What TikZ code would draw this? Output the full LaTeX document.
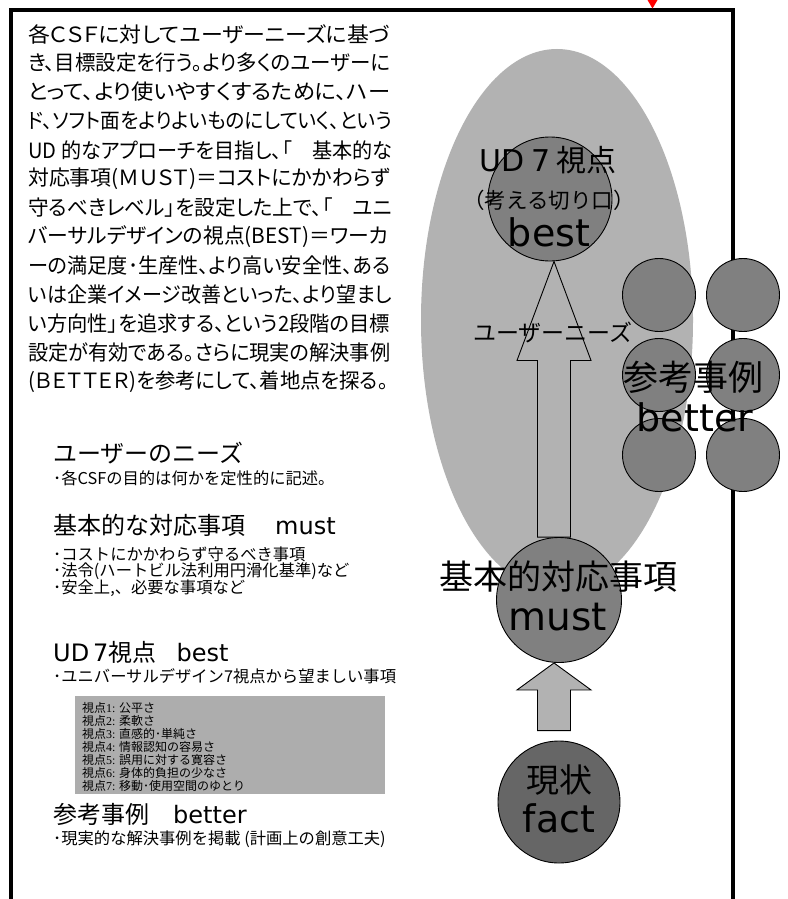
\documentclass[tikz,border=0pt]{standalone}
\usepackage{fontspec}
\usepackage{graphicx}
\usetikzlibrary{calc}
\newfontfamily\jp[RawFeature=+palt]{Noto Sans CJK JP}
\newfontfamily\jpw{Noto Sans CJK JP}
\newfontfamily\lat{DejaVu Sans}
\newfontfamily\ser{Liberation Serif}
\definecolor{lg}{HTML}{B2B2B2}
\definecolor{mg}{HTML}{808080}
\definecolor{dg}{HTML}{666666}
\definecolor{bx}{HTML}{ADADAD}
\begin{document}
\begin{tikzpicture}[x=1pt,y=-1pt,
  circ/.style={circle,draw=black,line width=0.9pt,inner sep=0pt},
  arr/.style={draw=black,line width=0.9pt,fill=lg,line join=miter},
  lbl/.style={inner sep=0pt},
  para/.style={inner sep=0pt,anchor=west,font={\jp\fontsize{21pt}{21pt}\selectfont}},
  head/.style={inner sep=0pt,anchor=west,font={\jpw\fontsize{24pt}{24pt}\selectfont}},
  bul/.style={inner sep=0pt,anchor=west,font={\jpw\fontsize{16.3pt}{16.3pt}\selectfont}},
  boxt/.style={inner sep=0pt,anchor=west,font={\jpw\fontsize{12pt}{12pt}\selectfont}},
]
\useasboundingbox (0,0) rectangle (787,899);
\fill[white] (0,0) rectangle (787,899);
% big light ellipse
\fill[lg] (557,320) ellipse [x radius=136pt, y radius=271pt];
% frame
\draw[line width=4pt,line join=miter] (10.5,905) -- (10.5,10) -- (733,10) -- (733,905);
\fill[red] (647.5,0) -- (657.5,0) -- (652.5,8.5) -- cycle;

% circles and arrows
\node[circ,fill=mg,minimum size=124pt] (best) at (550,199) {};
\coordinate (t1) at ($(best.south)+(4,0)$);
\node[circ,minimum size=125pt,draw=none] (mustpos) at (559,600) {};
\coordinate (sl) at ($(t1)+(-16.5,0)$);
\coordinate (sr) at ($(t1)+(16.5,0)$);
\draw[arr] (t1) -- ($(t1)+(37,99)$) -- ($(t1)+(16.5,99)$) -- (sr |- mustpos.north) -- (sl |- mustpos.north) -- ($(t1)+(-16.5,99)$) -- ($(t1)+(-37,99)$) -- cycle;
\node[circ,fill=mg,minimum size=125pt] (must) at (559,600) {};
\node[circ,fill=dg,minimum size=122pt] (fact) at (559,802) {};
\coordinate (t2) at (t1 |- must.south);
\coordinate (b2) at ($(t1 |- fact.north)+(0,-10)$);
\draw[arr] (t2) -- ($(t2)+(37,27)$) -- ($(t2)+(16.5,27)$) -- (sr |- b2) -- (sl |- b2) -- ($(t2)+(-16.5,27)$) -- ($(t2)+(-37,27)$) -- cycle;

% better circles
\node[circ,fill=mg,minimum size=73pt] (c11) at (659,295) {};
\node[circ,fill=mg,minimum size=73pt] (c12) at (743,295) {};
\node[circ,fill=mg,minimum size=73pt] (c21) at (659,375) {};
\node[circ,fill=mg,minimum size=73pt] (c22) at (743,375) {};
\node[circ,fill=mg,minimum size=73pt] (c31) at (659,455) {};
\node[circ,fill=mg,minimum size=73pt] (c32) at (743,455) {};

% labels on diagram
\node[lbl,font={\jpw\fontsize{30pt}{30pt}\selectfont}] (udl) at (548,160) {{\lat UD}\hspace{7pt}{\lat 7}\hspace{6pt}視点};
\node[lbl,font={\jpw\fontsize{21.5pt}{21.5pt}\selectfont}] (kiri) at (549,200) {（考える切り口）};
\node[lbl,font={\lat\fontsize{38pt}{38pt}\selectfont}] (bestl) at (549,232) {best};
\node[lbl,font={\jpw\fontsize{23pt}{23pt}\selectfont}] (needs) at (553,332) {ユーザーニーズ};
\node[lbl,font={\jpw\fontsize{34pt}{34pt}\selectfont}] (mustj) at (558,577) {基本的対応事項};
\node[lbl,font={\lat\fontsize{39pt}{39pt}\selectfont}] (mustl) at (558,617) {must};
\node[lbl,font={\jpw\fontsize{33pt}{33pt}\selectfont}] (factj) at (559,780) {現状};
\node[lbl,font={\lat\fontsize{38pt}{38pt}\selectfont}] (factl) at (559,818) {fact};
\node[lbl,font={\jpw\fontsize{35pt}{35pt}\selectfont}] (betj) at (693,377) {参考事例};
\node[lbl,font={\lat\fontsize{38pt}{38pt}\selectfont}] (betl) at (695,417) {better};

% paragraph
\node[para] (p1) at (28,34) {\resizebox{362pt}{\height}{各ＣＳＦに対してユーザーニーズに基づ}};
\node[para] (p2) at (28,63) {\resizebox{362pt}{\height}{き、目標設定を行う。より多くのユーザーに}};
\node[para] (p3) at (28,92) {\resizebox{362pt}{\height}{とって、より使いやすくするために、ハー}};
\node[para] (p4) at (28,121) {\resizebox{364pt}{\height}{ド、ソフト面をよりよいものにしていく、という}};
\node[para] (p5) at (28,150) {\resizebox{364pt}{\height}{UD 的なアプローチを目指し、「　基本的な}};
\node[para] (p6) at (28,179) {\resizebox{362pt}{\height}{対応事項(ＭＵＳＴ)＝コストにかかわらず}};
\node[para] (p7) at (28,208) {\resizebox{364pt}{\height}{守るべきレベル」を設定した上で、「　ユニ}};
\node[para] (p8) at (28,237) {\resizebox{360pt}{\height}{バーサルデザインの視点(BEST)＝ワーカ}};
\node[para] (p9) at (28,266) {\resizebox{362pt}{\height}{ーの満足度･生産性、より高い安全性、ある}};
\node[para] (p10) at (28,295) {\resizebox{364pt}{\height}{いは企業イメージ改善といった、より望まし}};
\node[para] (p11) at (28,324) {\resizebox{362pt}{\height}{い方向性」を追求する、という2段階の目標}};
\node[para] (p12) at (28,353) {\resizebox{362pt}{\height}{設定が有効である。さらに現実の解決事例}};
\node[para] (p13) at (28,382) {\resizebox{360pt}{\height}{(ＢＥＴＴＥＲ)を参考にして、着地点を探る。}};

% left column
\node[head] (h1) at (53,453) {ユーザーのニーズ};
\node[bul] (h1a) at (53,478) {･各CSFの目的は何かを定性的に記述。};
\node[head] (h2) at (53,525) {基本的な対応事項\hspace{30pt}{\lat must}};
\node[bul] (h2a) at (53,554) {･コストにかかわらず守るべき事項};
\node[bul] (h2b) at (53,571) {･法令(ハートビル法利用円滑化基準)など};
\node[bul] (h2c) at (53,588) {･安全上,、必要な事項など};
\node[head] (h3) at (53,652) {{\lat UD}\,{\lat 7}視点\hspace{20pt}{\lat best}};
\node[bul] (h3a) at (53,676) {･ユニバーサルデザイン7視点から望ましい事項};
\fill[bx] (75,696) rectangle (385,794);
\node[boxt] (v1) at (82,707.5) {視点{\ser 1:} 公平さ};
\node[boxt] (v2) at (82,720.5) {視点{\ser 2:} 柔軟さ};
\node[boxt] (v3) at (82,733.5) {視点{\ser 3:} 直感的･単純さ};
\node[boxt] (v4) at (82,746.5) {視点{\ser 4:} 情報認知の容易さ};
\node[boxt] (v5) at (82,759.5) {視点{\ser 5:} 誤用に対する寛容さ};
\node[boxt] (v6) at (82,772.5) {視点{\ser 6:} 身体的負担の少なさ};
\node[boxt] (v7) at (82,785.5) {視点{\ser 7:} 移動･使用空間のゆとり};
\node[head] (h4) at (53,814) {参考事例\hspace{24pt}{\lat better}};
\node[bul] (h4a) at (53,839) {･現実的な解決事例を掲載 (計画上の創意工夫)};
\end{tikzpicture}
\end{document}
